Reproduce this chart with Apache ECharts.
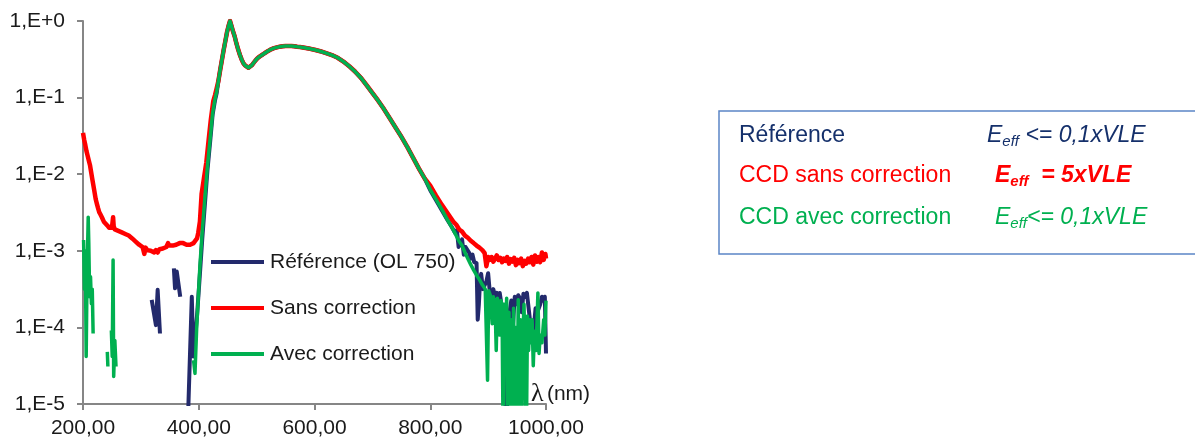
<!DOCTYPE html>
<html>
<head>
<meta charset="utf-8">
<script src="https://cdn.jsdelivr.net/npm/echarts@6/dist/echarts.min.js"></script>
<style>
  html, body { margin: 0; padding: 0; background: #fff; }
  #chart { width: 1195px; height: 439px; }
</style>
</head>
<body>
<div id="chart"></div>
<script>
const xTickLabels = ['200,00', '400,00', '600,00', '800,00', '1000,00'];
const yTickLabels = ['1,E-5', '1,E-4', '1,E-3', '1,E-2', '1,E-1', '1,E+0'];
const seriesNames = ['Référence (OL 750)', 'Sans correction', 'Avec correction'];

// common part of the three spectra (they overlap here)
const peakPts = [
  [434, 0.166], [437, 0.229], [440, 0.309], [443, 0.417], [446, 0.55], [449, 0.724],
  [452, 0.891], [454, 1.0], [456, 0.891], [459, 0.741], [462, 0.631], [465, 0.513],
  [468, 0.427], [471, 0.363], [474, 0.316], [477, 0.282], [480, 0.263], [483, 0.251],
  [486, 0.245], [489, 0.251], [492, 0.266], [495, 0.285], [498, 0.305], [501, 0.324],
  [505, 0.343], [510, 0.363], [515, 0.385], [520, 0.407], [525, 0.427], [530, 0.442],
  [535, 0.452], [540, 0.462], [545, 0.468], [550, 0.473], [555, 0.473], [560, 0.473],
  [565, 0.468], [570, 0.462], [575, 0.457], [580, 0.452], [590, 0.437], [600, 0.422],
  [610, 0.403], [620, 0.38], [630, 0.359], [640, 0.331], [650, 0.295], [660, 0.257],
  [670, 0.219], [680, 0.182], [690, 0.145], [700, 0.115], [710, 0.0912], [720, 0.0708],
  [730, 0.0537], [740, 0.0407], [750, 0.0309], [760, 0.0229], [770, 0.0166], [780, 0.012],
  [790, 0.0089]
];

// Référence (OL 750) - null = no value (gap)
const refLeft = [
  [318.7, 2.29e-4], [326, 1.07e-4], [329, 3.09e-4], [333, 8.32e-5], [340, null],
  [357, 5.89e-4], [359, 3.24e-4], [362, 5.37e-4], [368, 2.51e-4], [374, null],
  [380, 3e-6], [388, 2.51e-4], [390.6, 4.17e-5], [393.5, 6.76e-5], [397, 1.41e-4],
  [402, 5e-4], [406, 1.41e-3], [411, 4.47e-3], [415, 0.0112], [420, 0.0282],
  [424, 0.0603], [428, 0.0912], [431, 0.115]
];
const refRight = [
  [800, 6.17e-3], [810, 4.57e-3], [820, 3.39e-3], [830, 2.51e-3], [838, 2e-3],
  [843, 1.7e-3], [846, 1.86e-3], [849, 1.12e-3], [852, 1.26e-3], [855, 1.41e-3],
  [858, 8.9e-4], [861, 1.12e-3], [864, 1.07e-3], [867, 9.5e-4], [870, 7.9e-4],
  [873, 8.9e-4], [876, 7.1e-4], [880, 6.9e-4], [882, 1.26e-4], [884, 2e-4],
  [886, 3.98e-4], [888, 5e-4], [891, 3.16e-4], [894, 3.55e-4], [897, 3.98e-4],
  [900, 5.1e-4], [903, 2.82e-4], [906, 1.86e-4], [909, 3.16e-4], [912, 2.51e-4],
  [915, 2.82e-4], [918, 2.4e-4], [920, 2.82e-4], [923, 2e-4], [926, 1.26e-4],
  [929, 4e-5], [931, 3e-6], [934, 3e-6], [937, 1.58e-4], [940, 2.24e-4],
  [943, 1.12e-4], [946, 2.51e-4], [949, 2e-4], [952, 2.63e-4], [955, 2.4e-4],
  [958, 1.58e-4], [961, 2.75e-4], [964, 2.51e-4], [967, 2.82e-4], [970, 1.78e-4],
  [973, 1.12e-4], [976, 6.76e-5], [979, 1e-4], [982, 1.78e-4], [985, 1.58e-4],
  [987, 1.55e-4], [990, 2e-4], [993, 2.51e-4], [996, 2.24e-4], [998, 2.51e-4],
  [1000, 4.57e-5]
];

// Sans correction
const sansLeft = [
  [200, 0.0347], [202, 0.0282], [204, 0.024], [206, 0.02], [208, 0.0174], [210, 0.0151],
  [212, 0.0132], [214, 0.0107], [216, 0.0087], [218, 0.0071], [220, 0.0058], [222, 0.0047],
  [224, 0.0041], [226, 0.0036], [228, 0.0032], [230, 0.003], [233, 0.0027], [236, 0.0024],
  [239, 0.0023], [242, 0.00214], [245, 0.002], [248, 0.0021], [250, 0.002], [252, 0.00275],
  [253, 0.0021], [255, 0.0019], [258, 0.002], [261, 0.00182], [264, 0.0019], [267, 0.00174],
  [270, 0.00182], [273, 0.00166], [276, 0.0017], [279, 0.00158], [282, 0.00151], [285, 0.00145],
  [288, 0.00138], [291, 0.00132], [294, 0.00126], [297, 0.0012], [300, 0.00115], [303, 0.00112],
  [306, 0.00091], [308, 0.0011], [311, 0.00102], [314, 0.00107], [317, 0.001], [320, 0.00105],
  [323, 0.00095], [326, 0.00102], [329, 0.00095], [332, 0.00105], [335, 0.001], [338, 0.00107],
  [341, 0.0011], [344, 0.00112], [347, 0.00126], [349, 0.00117], [352, 0.00112], [355, 0.00117],
  [358, 0.00115], [361, 0.0012], [364, 0.00117], [367, 0.00126], [370, 0.0012], [373, 0.00126],
  [376, 0.00123], [379, 0.0012], [382, 0.00126], [385, 0.0012], [388, 0.00123], [391, 0.00126],
  [394, 0.00132], [397, 0.00145], [399, 0.0017], [402, 0.0024], [405, 0.0056], [409, 0.0089],
  [413, 0.0141], [417, 0.0275], [421, 0.0525], [425, 0.089], [428, 0.107], [431, 0.132]
];
const sansRight = [
  [800, 7.08e-3], [810, 5.25e-3], [820, 3.98e-3], [830, 3.09e-3], [840, 2.4e-3],
  [845, 2.19e-3], [850, 1.9e-3], [855, 1.78e-3], [860, 1.58e-3], [865, 1.48e-3],
  [870, 1.35e-3], [875, 1.26e-3], [880, 1.17e-3], [885, 1.1e-3], [890, 1.02e-3],
  [894, 9.3e-4], [897, 6.3e-4], [900, 8.3e-4], [903, 7.6e-4], [906, 8.3e-4],
  [909, 7.2e-4], [912, 7.9e-4], [915, 8.7e-4], [918, 7.6e-4], [921, 8.1e-4],
  [924, 7.1e-4], [927, 7.9e-4], [930, 7.4e-4], [933, 8.3e-4], [936, 6.8e-4],
  [939, 7.8e-4], [942, 7.2e-4], [945, 8.1e-4], [948, 6.5e-4], [951, 7.6e-4],
  [954, 6.9e-4], [957, 7.9e-4], [960, 6.3e-4], [963, 7.4e-4], [966, 6.8e-4],
  [969, 7.9e-4], [972, 7.1e-4], [975, 8.3e-4], [978, 6.6e-4], [981, 8.7e-4],
  [984, 7.2e-4], [987, 8.3e-4], [990, 7.1e-4], [993, 9.5e-4], [996, 7.6e-4],
  [999, 9.1e-4], [1000, 7.9e-4]
];

// Avec correction
const avecLeft = [
  [201, 1.38e-3], [202.5, 3.16e-4], [204, 1e-3], [205.5, 4.17e-5], [207, 5e-4],
  [209, 2.75e-3], [210, 1.26e-3], [211.5, 2.51e-4], [213, 4.57e-4], [214.5, 2.04e-4],
  [216, 3.16e-4], [217.5, 8.32e-5], [230, null],
  [242, 4.79e-5], [243, 3.09e-5], [246, null],
  [249, 9.12e-5], [250.5, 4.17e-5], [252, 7.59e-4], [253, 2.29e-5], [255, 6.76e-5],
  [257, 3.09e-5], [300, null],
  [391, 3.72e-5], [393.5, 2.51e-5], [396.5, 1.02e-4], [402, 6.3e-4], [406, 1.78e-3],
  [411, 5.37e-3], [415, 0.0126], [419.5, 0.0282], [424, 0.063], [428, 0.0955], [431, 0.12]
];
const avecRight = [
  [800, 6.3e-3], [810, 4.68e-3], [820, 3.47e-3], [830, 2.51e-3], [840, 1.86e-3],
  [850, 1.32e-3], [855, 1.17e-3], [860, 9.5e-4], [865, 7.9e-4], [870, 6.6e-4],
  [875, 5.6e-4], [880, 4.8e-4], [885, 4.2e-4], [890, 3.6e-4], [895, 3.16e-4],
  [899, 2.04e-5], [901, 3e-4], [904, 2.6e-4], [907, 1.12e-4], [909, 2.51e-4],
  [912, 2e-4], [914, 5e-5], [916, 2.4e-4], [918, 1.78e-4], [920, 7.94e-5],
  [922, 2.24e-4], [924, 2e-4], [926, 3e-6], [928, 2e-4], [930, 4e-5],
  [932, 2.4e-4], [934, 3e-6], [936, 1.58e-4], [938, 3e-6], [940, 1.26e-4],
  [942, 3e-6], [944, 1.78e-4], [946, 3e-6], [948, 1e-4], [950, 3e-6],
  [952, 2.3e-4], [954, 3e-6], [956, 1.26e-4], [958, 3e-6], [960, 7.94e-5],
  [962, 2e-4], [964, 3.16e-5], [966, 3e-6], [968, 1.41e-4], [970, 5e-5],
  [972, 1.26e-4], [974, 6.3e-5], [976, 1.26e-4], [978, 3.16e-5], [980, 8.91e-5],
  [983, 5e-5], [986, 2.82e-4], [988, 4.57e-5], [990, 7.94e-5], [993, 6.3e-5],
  [996, 1.26e-4], [998, 7.94e-5], [1000, 2.24e-4]
];

const colors = ['#232a6c', '#ff0000', '#00b050'];
const font = '"Liberation Sans", Arial, sans-serif';

const toData = (pts) => pts.map(([x, y]) => [x, y == null ? '-' : y]);

const chart = echarts.init(document.getElementById('chart'));

const lineSeries = (name, pts, i, width) => ({
  name: name,
  type: 'line',
  data: toData(pts),
  showSymbol: false,
  symbol: 'none',
  connectNulls: false,
  clip: true,
  color: colors[i],
  itemStyle: { color: colors[i] },
  lineStyle: { color: colors[i], width: width, join: 'round' },
  animation: false
});

const option = {
  backgroundColor: '#ffffff',
  animation: false,
  grid: { left: 83, right: 649, top: 21, bottom: 35, outerBoundsMode: 'none' },
  xAxis: {
    type: 'value',
    min: 200,
    max: 1000,
    interval: 200,
    axisLine: { show: true, lineStyle: { color: '#868686', width: 2 } },
    axisTick: { show: true, length: 6, lineStyle: { color: '#868686', width: 2 } },
    splitLine: { show: false },
    axisLabel: {
      color: '#1a1a1a', fontSize: 21, fontFamily: font, margin: 14,
      formatter: (v) => xTickLabels[Math.round((v - 200) / 200)]
    }
  },
  yAxis: {
    type: 'log',
    logBase: 10,
    min: 1e-5,
    max: 1,
    axisLine: { show: true, lineStyle: { color: '#868686', width: 2 } },
    axisTick: { show: true, length: 6, lineStyle: { color: '#868686', width: 2 } },
    splitLine: { show: false },
    axisLabel: {
      color: '#1a1a1a', fontSize: 21, fontFamily: font, margin: 18,
      formatter: (v) => yTickLabels[Math.round(Math.log10(v)) + 5]
    }
  },
  legend: {
    orient: 'vertical',
    left: 211,
    top: 250,
    padding: 0,
    itemGap: 22,
    itemWidth: 53,
    itemHeight: 4,
    icon: 'rect',
    textStyle: { color: '#1a1a1a', fontSize: 21, fontFamily: font, lineHeight: 24, padding: [0, 0, 0, 1] },
    data: seriesNames
  },
  series: [
    lineSeries(seriesNames[0], [...refLeft, ...peakPts, ...refRight], 0, 4),
    lineSeries(seriesNames[1], [...sansLeft, ...peakPts, ...sansRight], 1, 4.5),
    lineSeries(seriesNames[2], [...avecLeft, ...peakPts, ...avecRight], 2, 3.5)
  ],
  graphic: [
    {
      type: 'rect',
      shape: { x: 719, y: 111, width: 520, height: 143 },
      style: { fill: '#fff', stroke: '#5b85c6', lineWidth: 1.5 }
    },
    {
      type: 'text', x: 739, y: 136,
      style: { text: 'Référence', fill: '#15306b', font: '23px ' + font, verticalAlign: 'middle' }
    },
    {
      type: 'text', x: 739, y: 176,
      style: { text: 'CCD sans correction', fill: '#ff0000', font: '23px ' + font, verticalAlign: 'middle' }
    },
    {
      type: 'text', x: 739, y: 218,
      style: { text: 'CCD avec correction', fill: '#00b050', font: '23px ' + font, verticalAlign: 'middle' }
    },
    {
      type: 'text', x: 987, y: 136,
      style: {
        text: '{e|E}{s|eff}{e| <= 0,1xVLE}',
        fill: '#15306b',
        verticalAlign: 'middle',
        rich: {
          e: { fontSize: 23, fontStyle: 'italic', fontFamily: font, lineHeight: 26, fill: '#15306b' },
          s: { fontSize: 15, fontStyle: 'italic', fontFamily: font, lineHeight: 15, verticalAlign: 'bottom', fill: '#15306b' }
        }
      }
    },
    {
      type: 'text', x: 995, y: 176,
      style: {
        text: '{e|E}{s|eff}{e|  = 5xVLE}',
        fill: '#ff0000',
        verticalAlign: 'middle',
        rich: {
          e: { fontSize: 23, fontStyle: 'italic', fontWeight: 'bold', fontFamily: font, lineHeight: 26, fill: '#ff0000' },
          s: { fontSize: 15, fontStyle: 'italic', fontWeight: 'bold', fontFamily: font, lineHeight: 15, verticalAlign: 'bottom', fill: '#ff0000' }
        }
      }
    },
    {
      type: 'text', x: 995, y: 218,
      style: {
        text: '{e|E}{s|eff}{e|<= 0,1xVLE}',
        fill: '#00b050',
        verticalAlign: 'middle',
        rich: {
          e: { fontSize: 23, fontStyle: 'italic', fontFamily: font, lineHeight: 26, fill: '#00b050' },
          s: { fontSize: 15, fontStyle: 'italic', fontFamily: font, lineHeight: 15, verticalAlign: 'bottom', fill: '#00b050' }
        }
      }
    },
    {
      type: 'text', x: 531, y: 394,
      style: {
        text: '{l|λ} {u|(nm)}',
        verticalAlign: 'middle',
        rich: {
          l: { fontSize: 26, fontFamily: '"Liberation Serif", "Times New Roman", serif', fill: '#1a1a1a' },
          u: { fontSize: 21, fontFamily: font, fill: '#1a1a1a' }
        }
      }
    }
  ]
};

chart.setOption(option);
</script>
</body>
</html>
